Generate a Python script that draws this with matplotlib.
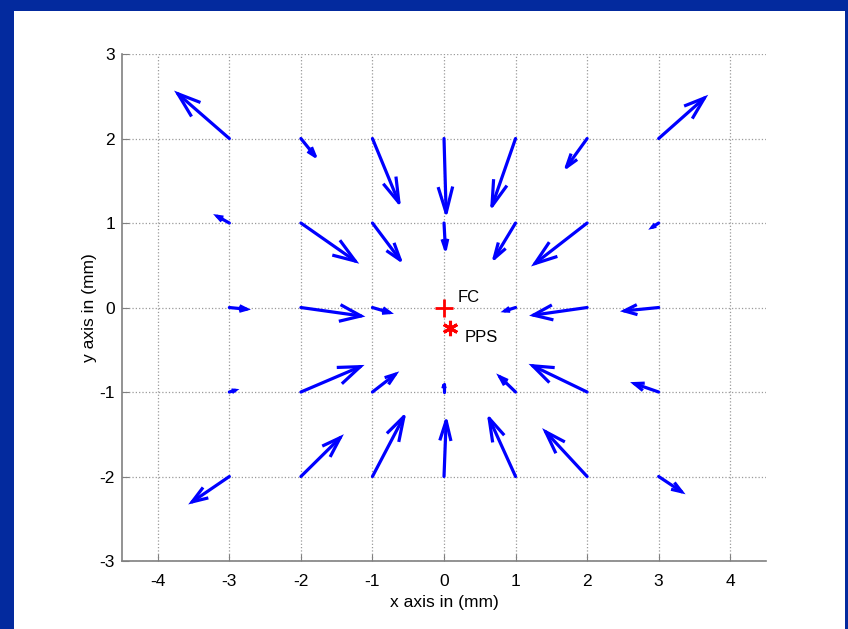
import numpy as np
import matplotlib
matplotlib.use("Agg")
import matplotlib.pyplot as plt
from matplotlib.patches import Rectangle

plt.rcParams['font.family'] = ['Liberation Sans', 'DejaVu Sans']
plt.rcParams['axes.unicode_minus'] = False

# grid points (mm) and displacement vectors
x0 = [-3, -2, -1, 0, 1, 2, 3,
      -3, -2, -1, 0, 1, 2, 3,
      -3, -2, -1, 1, 2, 3,
      -3, -2, -1, 0, 1, 2, 3,
      -3, -2, -1, 0, 1, 2, 3]
y0 = [2, 2, 2, 2, 2, 2, 2,
      1, 1, 1, 1, 1, 1, 1,
      0, 0, 0, 0, 0, 0,
      -1, -1, -1, -1, -1, -1, -1,
      -2, -2, -2, -2, -2, -2, -2]
u = [-0.72, 0.20, 0.37, 0.03, -0.33, -0.29, 0.64,
     -0.17, 0.76, 0.39, 0.02, -0.30, -0.73, -0.09,
     0.24, 0.84, 0.24, -0.15, -0.75, -0.48,
     0.08, 0.83, 0.32, 0.00, -0.22, -0.76, -0.34,
     -0.52, 0.55, 0.44, 0.03, -0.37, -0.58, 0.32]
v = [0.53, -0.21, -0.76, -0.88, -0.80, -0.34, 0.48,
     0.08, -0.45, -0.44, -0.31, -0.42, -0.48, -0.05,
     -0.02, -0.10, -0.06, -0.04, -0.09, -0.04,
     0.02, 0.30, 0.21, 0.09, 0.18, 0.31, 0.10,
     -0.30, 0.46, 0.71, 0.66, 0.69, 0.53, -0.18]

fc = (0.0, 0.0)
pps = (0.08, -0.24)

fig = plt.figure(figsize=(8.48, 6.29), dpi=100, facecolor='#032a9e')
fig.patches.append(Rectangle((14 / 848, 0), (845 - 14) / 848, 1 - 11 / 629,
                             transform=fig.transFigure, facecolor='white',
                             edgecolor='none', zorder=-5))
ax = fig.add_axes([0.1439, 0.1081, 0.7594, 0.806])
ax.set_zorder(2)

# quiver-style arrows with open heads (head = 0.33 of length)
alpha, beta = 0.33, 0.33
for xi, yi, ui, vi in zip(x0, y0, u, v):
    xt, yt = xi + ui, yi + vi
    ax.plot([xi, xt], [yi, yt], color='#0000ff', lw=2.3, solid_capstyle='round')
    hx = [xt - alpha * (ui + beta * vi), xt, xt - alpha * (ui - beta * vi)]
    hy = [yt - alpha * (vi - beta * ui), yt, yt - alpha * (vi + beta * ui)]
    ax.plot(hx, hy, color='#0000ff', lw=2.3, solid_joinstyle='miter')

ax.plot(*fc, marker='+', color='red', ms=13, mew=2, ls='none')
ax.plot(*pps, marker=(6, 2, 0), color='red', ms=11, mew=2.2, ls='none')
ax.text(0.19, 0.12, 'FC', fontsize=12, va='center', ha='left')
ax.text(0.29, -0.36, 'PPS', fontsize=12, va='center', ha='left')

ax.set_xlim(-4.5, 4.5)
ax.set_ylim(-3, 3)
ax.set_xticks(range(-4, 5))
ax.set_yticks(range(-3, 4))
ax.grid(True, ls=':', color='#9a9a9a', lw=0.9)
ax.set_axisbelow(True)
for s in ['top', 'right']:
    ax.spines[s].set_visible(False)
for s in ['left', 'bottom']:
    ax.spines[s].set_color('#808080')
    ax.spines[s].set_linewidth(1.2)
ax.tick_params(direction='in', length=5, color='#808080', labelsize=12.5, pad=5)
ax.tick_params(axis='x', pad=9)
ax.set_xlabel('x axis in (mm)', fontsize=12.5, labelpad=5)
ax.set_ylabel('y axis in (mm)', fontsize=12.5, labelpad=2)

fig.savefig('out.png', dpi=100, facecolor=fig.get_facecolor())
